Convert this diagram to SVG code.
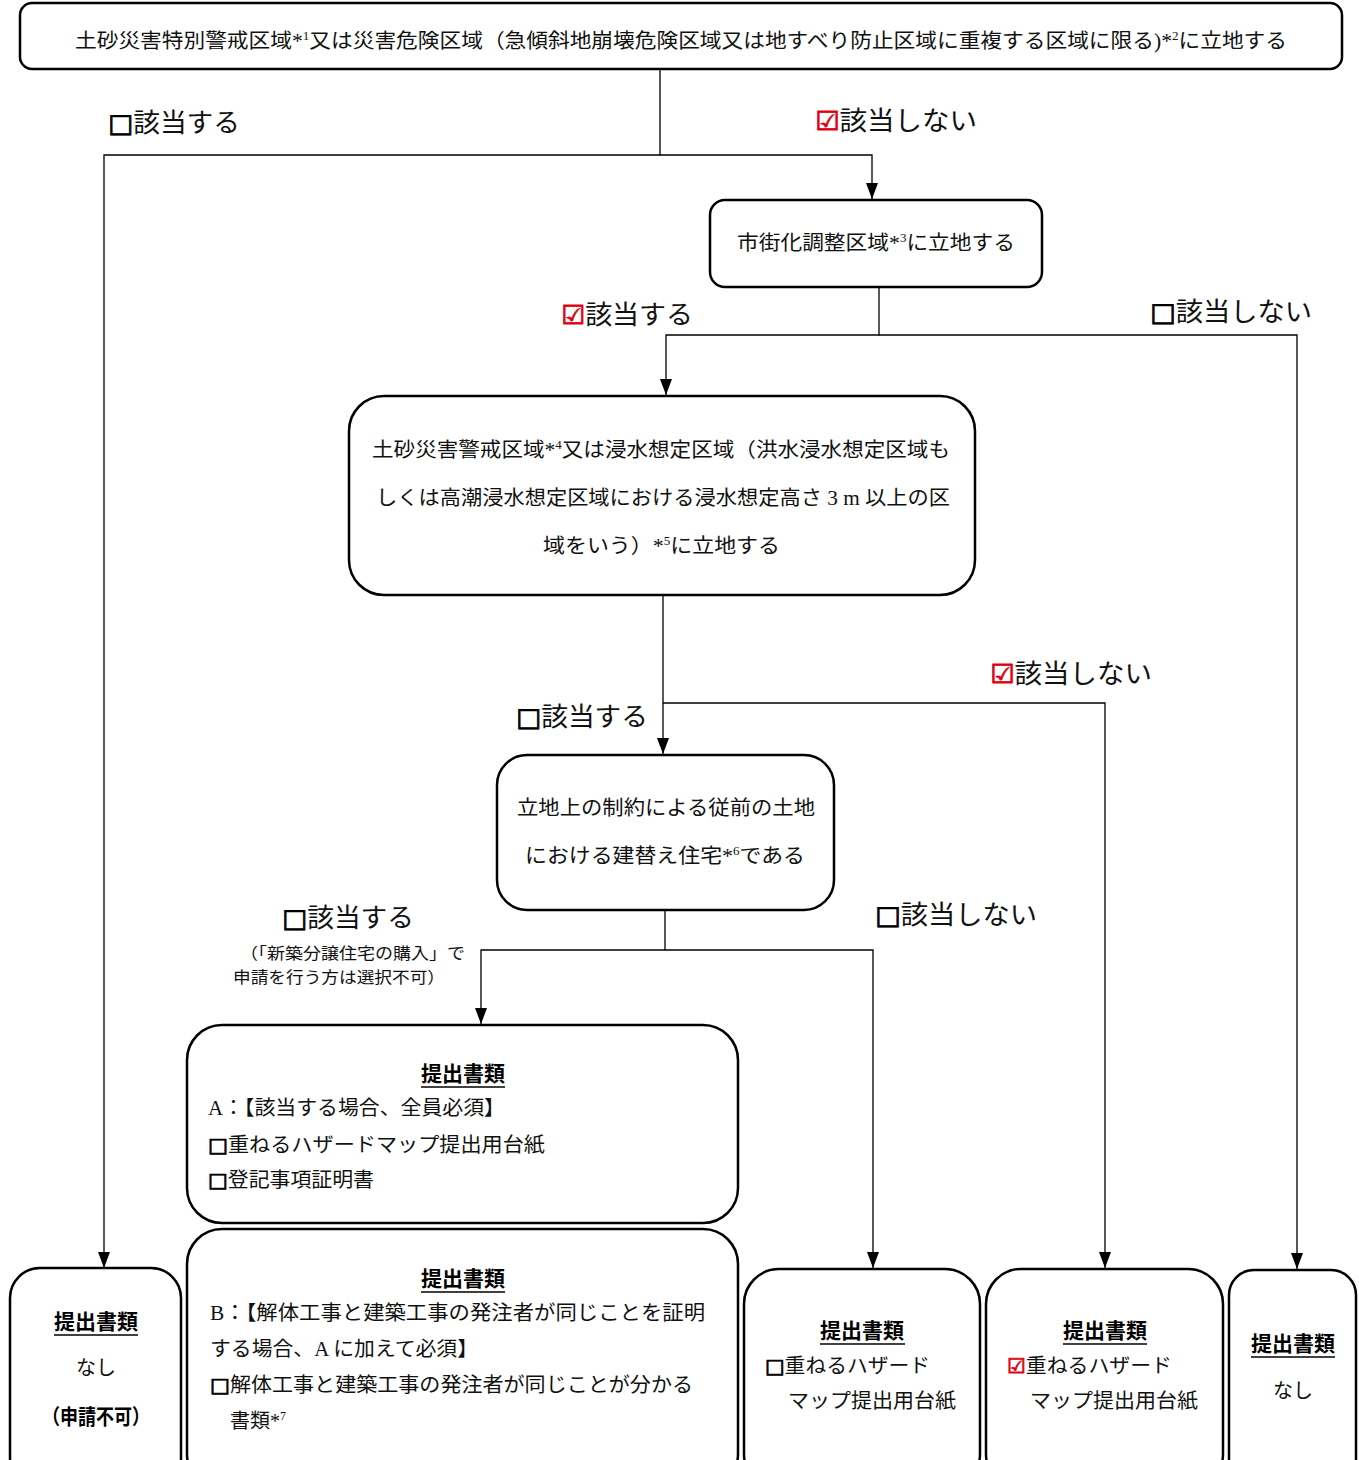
<svg xmlns="http://www.w3.org/2000/svg" width="1359" height="1460" viewBox="0 0 1359 1460">
<style>
.box{fill:#fff;stroke:#000;stroke-width:2.5}
.conn{fill:none;stroke:#000;stroke-width:1.3}
.t{font-family:"Liberation Serif","Noto Sans CJK JP","DejaVu Sans",serif;font-size:20px;fill:#111}
.lbl{font-family:"Liberation Serif","Noto Sans CJK JP","DejaVu Sans",serif;font-size:26px;fill:#111}
.sm{font-family:"Liberation Serif","Noto Sans CJK JP",serif;font-size:16px;fill:#111}
.h{font-family:"Noto Sans CJK JP",sans-serif;font-size:21px;font-weight:bold;fill:#000}
.sup{font-size:12px}
.chk{fill:#e00010;stroke:#e00010;stroke-width:0.8;font-family:"DejaVu Sans",sans-serif}
.ub{fill:#000;stroke:#000;stroke-width:0.8;font-family:"DejaVu Sans",sans-serif}
.ul{stroke:#000;stroke-width:1.5}
</style>

<g id="connectors">
<path class="conn" d="M660,69 V155 H104 V1267"/>
<path class="conn" d="M660,155 H872 V199"/>
<path class="conn" d="M879,287 V335 H666 V395"/>
<path class="conn" d="M879,335 H1297 V1269"/>
<path class="conn" d="M663,595 V754"/>
<path class="conn" d="M663,703 H1105 V1268"/>
<path class="conn" d="M665,910 V950 H481 V1024"/>
<path class="conn" d="M665,950 H873 V1268"/>
</g>
<g id="arrowheads">
<path d="M98,1252 L110,1252 L104,1268 Z"/>
<path d="M866,183 L878,183 L872,199 Z"/>
<path d="M660,379 L672,379 L666,395 Z"/>
<path d="M1291,1253 L1303,1253 L1297,1269 Z"/>
<path d="M657,738 L669,738 L663,754 Z"/>
<path d="M1099,1252 L1111,1252 L1105,1268 Z"/>
<path d="M475,1008 L487,1008 L481,1024 Z"/>
<path d="M867,1252 L879,1252 L873,1268 Z"/>
</g>

<g id="labels">
<text class="lbl" x="108" y="132" textLength="132" lengthAdjust="spacingAndGlyphs"><tspan class="ub">□</tspan>該当する</text>
<text class="lbl" x="815" y="130" textLength="162" lengthAdjust="spacingAndGlyphs"><tspan class="chk">☑</tspan>該当しない</text>
<text class="lbl" x="561" y="324" textLength="132" lengthAdjust="spacingAndGlyphs"><tspan class="chk">☑</tspan>該当する</text>
<text class="lbl" x="1150" y="321" textLength="162" lengthAdjust="spacingAndGlyphs"><tspan class="ub">□</tspan>該当しない</text>
<text class="lbl" x="990" y="683" textLength="162" lengthAdjust="spacingAndGlyphs"><tspan class="chk">☑</tspan>該当しない</text>
<text class="lbl" x="516" y="726" textLength="132" lengthAdjust="spacingAndGlyphs"><tspan class="ub">□</tspan>該当する</text>
<text class="lbl" x="282" y="927" textLength="132" lengthAdjust="spacingAndGlyphs"><tspan class="ub">□</tspan>該当する</text>
<text class="lbl" x="875" y="924" textLength="162" lengthAdjust="spacingAndGlyphs"><tspan class="ub">□</tspan>該当しない</text>
<text class="sm" x="240" y="959" textLength="225" lengthAdjust="spacingAndGlyphs">（「新築分譲住宅の購入」で</text>
<text class="sm" x="233" y="983" textLength="212" lengthAdjust="spacingAndGlyphs">申請を行う方は選択不可）</text>
</g>

<g id="node-top">
<rect class="box" x="20" y="3" width="1322" height="66" rx="12"/>
<text class="t" x="75" y="48" textLength="1212" lengthAdjust="spacingAndGlyphs">土砂災害特別警戒区域*<tspan class="sup" dy="-8">1</tspan><tspan dy="8">又は災害危険区域（急傾斜地崩壊危険区域又は地すべり防止区域に重複する区域に限る)*</tspan><tspan class="sup" dy="-8">2</tspan><tspan dy="8">に立地する</tspan></text>
</g>

<g id="node-shigaika">
<rect class="box" x="710" y="200" width="332" height="87" rx="15"/>
<text class="t" x="737" y="250" textLength="278" lengthAdjust="spacingAndGlyphs">市街化調整区域*<tspan class="sup" dy="-8">3</tspan><tspan dy="8">に立地する</tspan></text>
</g>

<g id="node-keikai">
<rect class="box" x="349" y="396" width="626" height="199" rx="35"/>
<text class="t" x="372" y="457" textLength="578" lengthAdjust="spacingAndGlyphs">土砂災害警戒区域*<tspan class="sup" dy="-8">4</tspan><tspan dy="8">又は浸水想定区域（洪水浸水想定区域も</tspan></text>
<text class="t" x="376" y="505" textLength="574" lengthAdjust="spacingAndGlyphs">しくは高潮浸水想定区域における浸水想定高さ 3 m 以上の区</text>
<text class="t" x="543" y="553" textLength="237" lengthAdjust="spacingAndGlyphs">域をいう）*<tspan class="sup" dy="-8">5</tspan><tspan dy="8">に立地する</tspan></text>
</g>

<g id="node-tatekae">
<rect class="box" x="497" y="755" width="337" height="155" rx="30"/>
<text class="t" x="517" y="815" textLength="298" lengthAdjust="spacingAndGlyphs">立地上の制約による従前の土地</text>
<text class="t" x="525" y="863" textLength="280" lengthAdjust="spacingAndGlyphs">における建替え住宅*<tspan class="sup" dy="-8">6</tspan><tspan dy="8">である</tspan></text>
</g>

<g id="node-docs-a">
<rect class="box" x="187" y="1025" width="551" height="198" rx="35"/>
<text class="h" x="463" y="1081" text-anchor="middle">提出書類</text>
<line class="ul" x1="421" y1="1087" x2="505" y2="1087"/>
<text class="t" x="208" y="1115" textLength="297" lengthAdjust="spacingAndGlyphs">A：【該当する場合、全員必須】</text>
<text class="t" x="208" y="1152" textLength="337" lengthAdjust="spacingAndGlyphs"><tspan class="ub">□</tspan>重ねるハザードマップ提出用台紙</text>
<text class="t" x="208" y="1187" textLength="166" lengthAdjust="spacingAndGlyphs"><tspan class="ub">□</tspan>登記事項証明書</text>
</g>

<g id="node-docs-b">
<rect class="box" x="187" y="1229" width="551" height="260" rx="35"/>
<text class="h" x="463" y="1286" text-anchor="middle">提出書類</text>
<line class="ul" x1="421" y1="1292" x2="505" y2="1292"/>
<text class="t" x="210" y="1320" textLength="495" lengthAdjust="spacingAndGlyphs">B：【解体工事と建築工事の発注者が同じことを証明</text>
<text class="t" x="210" y="1356" textLength="268" lengthAdjust="spacingAndGlyphs">する場合、A に加えて必須】</text>
<text class="t" x="210" y="1392" textLength="483" lengthAdjust="spacingAndGlyphs"><tspan class="ub">□</tspan>解体工事と建築工事の発注者が同じことが分かる</text>
<text class="t" x="230" y="1428">書類*<tspan class="sup" dy="-8">7</tspan></text>
</g>

<g id="node-none-fail">
<rect class="box" x="10" y="1268" width="171" height="220" rx="30"/>
<text class="h" x="96" y="1329" text-anchor="middle">提出書類</text>
<line class="ul" x1="54" y1="1335" x2="138" y2="1335"/>
<text class="t" x="96" y="1375" text-anchor="middle">なし</text>
<text class="h" x="96" y="1424" text-anchor="middle" textLength="108" lengthAdjust="spacingAndGlyphs">（申請不可）</text>
</g>

<g id="node-docs-c">
<rect class="box" x="744" y="1269" width="236" height="220" rx="35"/>
<text class="h" x="862" y="1338" text-anchor="middle">提出書類</text>
<line class="ul" x1="820" y1="1344" x2="905" y2="1344"/>
<text class="t" x="765" y="1373" textLength="165" lengthAdjust="spacingAndGlyphs"><tspan class="ub">□</tspan>重ねるハザード</text>
<text class="t" x="788" y="1408" textLength="168" lengthAdjust="spacingAndGlyphs">マップ提出用台紙</text>
</g>

<g id="node-docs-d">
<rect class="box" x="986" y="1269" width="237" height="220" rx="35"/>
<text class="h" x="1105" y="1338" text-anchor="middle">提出書類</text>
<line class="ul" x1="1063" y1="1344" x2="1147" y2="1344"/>
<text class="t" x="1007" y="1373" textLength="165" lengthAdjust="spacingAndGlyphs"><tspan class="chk">☑</tspan>重ねるハザード</text>
<text class="t" x="1030" y="1408" textLength="168" lengthAdjust="spacingAndGlyphs">マップ提出用台紙</text>
</g>

<g id="node-none">
<rect class="box" x="1229" y="1270" width="127" height="220" rx="25"/>
<text class="h" x="1293" y="1351" text-anchor="middle">提出書類</text>
<line class="ul" x1="1251" y1="1357" x2="1335" y2="1357"/>
<text class="t" x="1293" y="1398" text-anchor="middle">なし</text>
</g>
</svg>
